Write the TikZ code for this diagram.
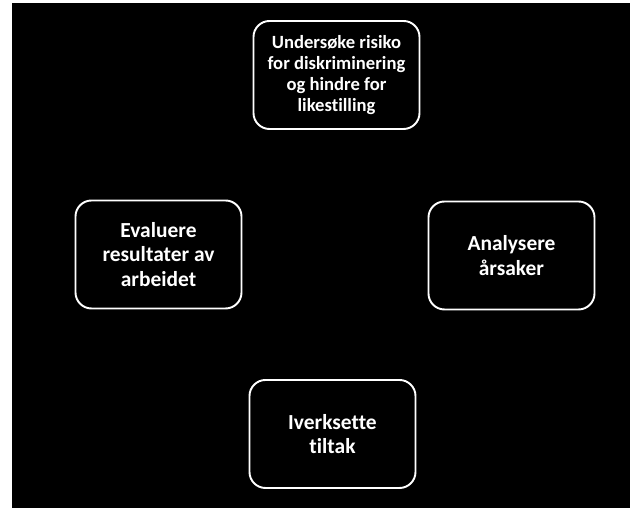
\documentclass[tikz,border=0pt]{standalone}
\usepackage{fontspec}
\setmainfont[Ligatures=CommonOff]{Carlito}
\usetikzlibrary{shapes,positioning}

\begin{document}
\begin{tikzpicture}[boks/.style={draw=white,line width=1.1pt,rounded corners=0.32cm,minimum width=3.32cm,minimum height=2.16cm,align=center,text=white,font=\bfseries\fontsize{12.2}{13.8}\selectfont}]
					\useasboundingbox (0,0) rectangle (12.6,10.16);
					\fill[black] (0.24,0) rectangle (12.6,10.1);
					
					\node[boks,font=\bfseries\fontsize{10.6}{12}\selectfont](undersoke) at (6.73,8.66){Undersøke risiko\\for diskriminering\\og hindre for\\likestilling};
					\node[boks](analysere) at (10.23,5.05){Analysere\\årsaker};
					\node[boks](iverksette) at (6.65,1.48){Iverksette\\tiltak};
					\node[boks](evaluere) at (3.17,5.07){Evaluere\\resultater av\\arbeidet};
				\end{tikzpicture}
\end{document}
